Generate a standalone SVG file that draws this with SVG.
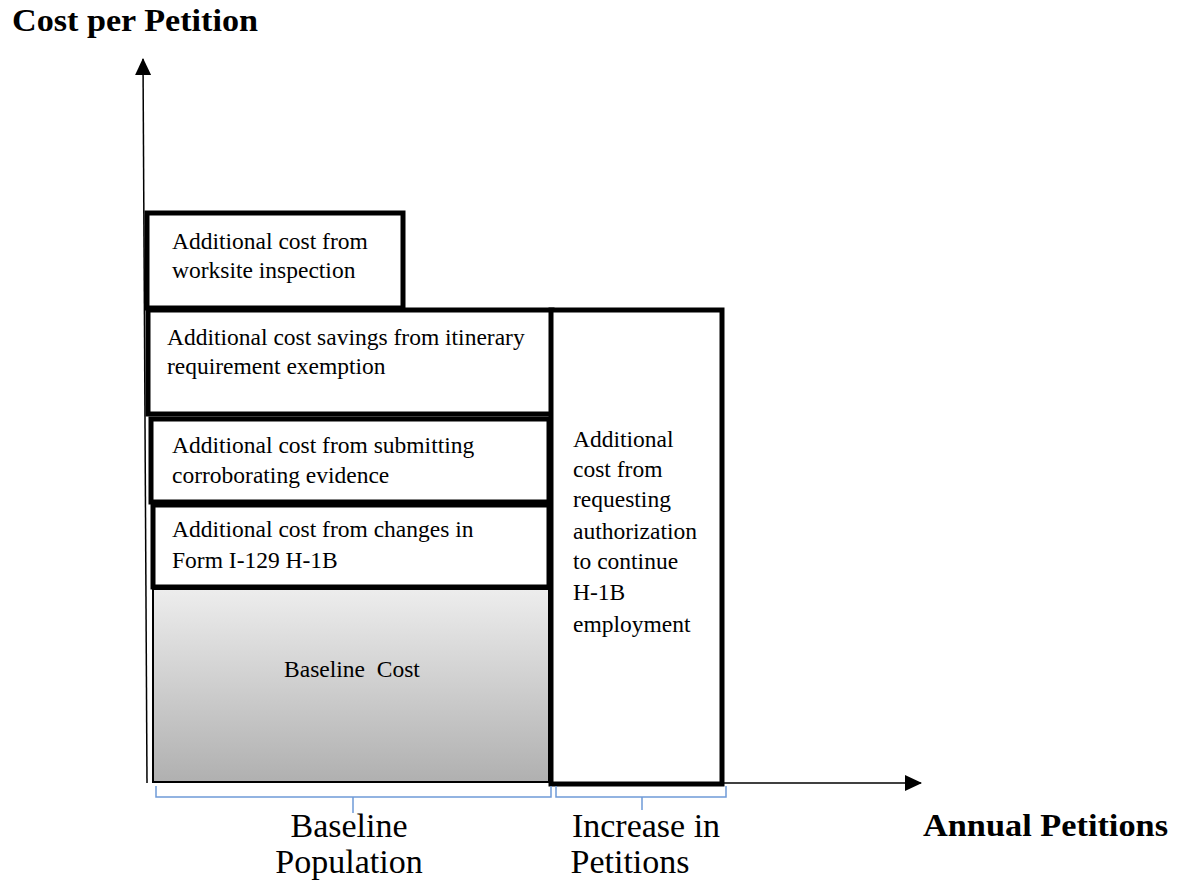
<svg xmlns="http://www.w3.org/2000/svg" width="1186" height="885" viewBox="0 0 1186 885">
<style>
.box{fill:#fff;stroke:#000;stroke-width:5}
.t{font-family:"Liberation Serif","Times New Roman",serif;font-size:23.5px;fill:#000}
.lbl{font-family:"Liberation Serif","Times New Roman",serif;font-size:34px;fill:#000;text-anchor:middle}
.ax{font-family:"Liberation Serif","Times New Roman",serif;font-size:32px;font-weight:bold;fill:#000}
.br{fill:none;stroke:#6f9bd8;stroke-width:1.5}
</style>
<defs>
<linearGradient id="g" x1="0" y1="0" x2="0" y2="1">
<stop offset="0" stop-color="#ededed"/>
<stop offset="1" stop-color="#b0b0b0"/>
</linearGradient>
<marker id="ar" markerWidth="17" markerHeight="16" refX="16" refY="8" orient="auto" markerUnits="userSpaceOnUse"><path d="M0,0 L17,8 L0,16 z" fill="#000"/></marker>
</defs>
<rect width="1186" height="885" fill="#fff"/>
<text class="ax" x="12" y="31" textLength="246" lengthAdjust="spacingAndGlyphs">Cost per Petition</text>
<text class="ax" x="923" y="836" textLength="245" lengthAdjust="spacingAndGlyphs">Annual Petitions</text>
<g id="connectors">
<line x1="147" y1="783" x2="143" y2="59" stroke="#000" stroke-width="1.5" marker-end="url(#ar)"/>
<line x1="722" y1="783" x2="921" y2="783" stroke="#000" stroke-width="1.5" marker-end="url(#ar)"/>
</g>
<g id="baseline">
<rect x="153" y="589" width="396" height="193" fill="url(#g)" stroke="#000" stroke-width="2"/>
<text class="t" x="352" y="677" text-anchor="middle" xml:space="preserve">Baseline  Cost</text>
</g>
<g id="worksite">
<rect class="box" x="147" y="213" width="256" height="95"/>
<text class="t" x="172" y="249">Additional cost from</text>
<text class="t" x="172" y="278">worksite inspection</text>
</g>
<g id="itinerary">
<rect class="box" x="148" y="310" width="404" height="104"/>
<text class="t" x="167" y="345">Additional cost savings from itinerary</text>
<text class="t" x="167" y="374">requirement exemption</text>
</g>
<g id="corroborating">
<rect class="box" x="151" y="419" width="398" height="83"/>
<text class="t" x="172" y="453">Additional cost from submitting</text>
<text class="t" x="172" y="483">corroborating evidence</text>
</g>
<g id="changes">
<rect class="box" x="153" y="505" width="396" height="82"/>
<text class="t" x="172" y="537">Additional cost from changes in</text>
<text class="t" x="172" y="568">Form I-129 H-1B</text>
</g>
<g id="increase">
<rect class="box" x="551" y="310" width="171" height="474"/>
<text class="t" x="573" y="447">Additional</text>
<text class="t" x="573" y="477">cost from</text>
<text class="t" x="573" y="507">requesting</text>
<text class="t" x="573" y="539">authorization</text>
<text class="t" x="573" y="569">to continue</text>
<text class="t" x="573" y="600">H-1B</text>
<text class="t" x="573" y="632">employment</text>
</g>
<g id="brace-baseline">
<path class="br" d="M156,786 V797 H551 V786 M353,797 V813"/>
<text class="lbl" x="349" y="837">Baseline</text>
<text class="lbl" x="349" y="873">Population</text>
</g>
<g id="brace-increase">
<path class="br" d="M556,786 V797 H726 V786 M642,797 V810"/>
<text class="lbl" x="646" y="837">Increase in</text>
<text class="lbl" x="630" y="873">Petitions</text>
</g>
</svg>
